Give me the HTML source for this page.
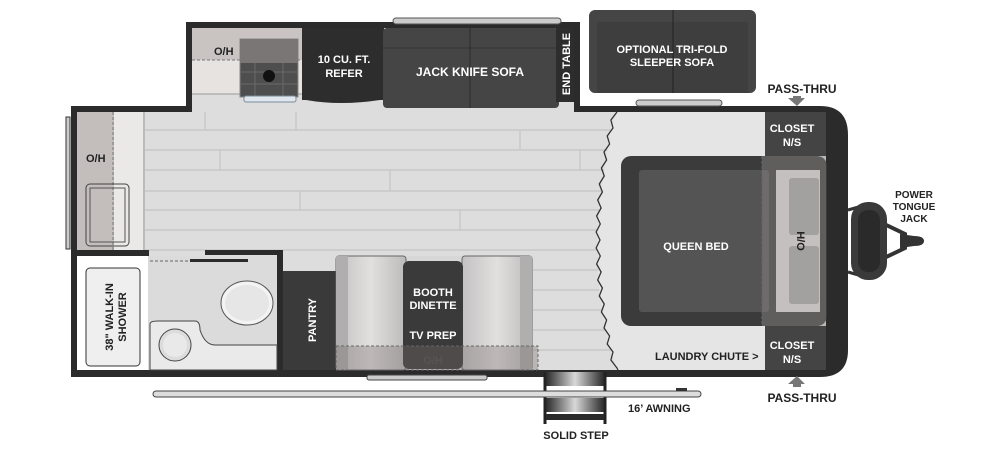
<!DOCTYPE html>
<html><head><meta charset="utf-8"><style>
html,body{margin:0;padding:0;background:#fff;}
svg{display:block;}
text{font-family:"Liberation Sans",sans-serif;font-weight:bold;}
</style></head><body>
<svg width="1000" height="450" viewBox="0 0 1000 450" xmlns="http://www.w3.org/2000/svg">
<defs>
<linearGradient id="bench" x1="0" x2="1" y1="0" y2="0"><stop offset="0" stop-color="#c4c2c2"/><stop offset="0.5" stop-color="#e2e0df"/><stop offset="1" stop-color="#bcbaba"/></linearGradient>
<linearGradient id="stepg" x1="0" x2="1"><stop offset="0" stop-color="#2a2a2a"/><stop offset="0.5" stop-color="#d8d8d8"/><stop offset="1" stop-color="#2a2a2a"/></linearGradient>
</defs>
<path d="M71 106 H186 V22 H580 V106 H820 Q848 106 848 135 V350 Q848 377 820 377 H71 Z" fill="#2b2b2b"/>
<rect x="77" y="112" width="749" height="258" fill="#dedddd"/>
<rect x="192" y="28" width="382" height="84" fill="#dedddd"/>
<g stroke="#c9c8c8" stroke-width="1.5">
<line x1="143" y1="130" x2="620" y2="130"/><line x1="143" y1="150" x2="620" y2="150"/>
<line x1="143" y1="170" x2="620" y2="170"/><line x1="143" y1="191" x2="620" y2="191"/>
<line x1="143" y1="210" x2="620" y2="210"/><line x1="143" y1="230" x2="620" y2="230"/>
<line x1="143" y1="250" x2="620" y2="250"/><line x1="533" y1="270" x2="620" y2="270"/>
<line x1="533" y1="290" x2="620" y2="290"/><line x1="533" y1="310" x2="620" y2="310"/>
<line x1="533" y1="330" x2="620" y2="330"/><line x1="533" y1="350" x2="620" y2="350"/>
<line x1="205" y1="112" x2="205" y2="130"/><line x1="296" y1="112" x2="296" y2="130"/>
<line x1="220" y1="150" x2="220" y2="170"/><line x1="390" y1="170" x2="390" y2="191"/>
<line x1="300" y1="191" x2="300" y2="210"/><line x1="520" y1="130" x2="520" y2="150"/>
<line x1="460" y1="210" x2="460" y2="230"/><line x1="580" y1="150" x2="580" y2="170"/>
</g>
<rect x="143" y="112" width="2" height="138" fill="#bbb"/>
<polygon points="617,112 765,112 765,370 617,370 609,344 604,320 600,296 598,272 598,240 599,208 602,184 607,152 611,128" fill="#e6e5e5"/>
<polyline points="617,112 610.9,120 613,128 607.2,136 609.6,144 604,152 606.6,160 601.4,168 604.25,176 599.3,184 602.4,192 597.7,200 601.1,208 596.6,216 600.3,224 596.1,232 600,240 596.1,248 600.3,256 596.6,264 601.1,272 597.7,280 602.4,288 599.3,296 604.25,304 601.4,312 606.6,320 604,328 609.6,336 607.2,344 613,352 610.9,360 617,368 618,370" fill="none" stroke="#333" stroke-width="1.3" stroke-linejoin="round"/>
<!-- kitchen -->
<rect x="192" y="28" width="110" height="66" fill="#e6e3e0"/>
<rect x="192" y="28" width="110" height="32" fill="#c9c3c2"/>
<line x1="192" y1="60" x2="302" y2="60" stroke="#777" stroke-dasharray="3,2"/>
<line x1="192" y1="94" x2="302" y2="94" stroke="#999"/>
<rect x="240" y="39" width="58" height="58" fill="#4e4e4e" stroke="#888"/>
<rect x="240" y="39" width="58" height="24" fill="#7a7676"/>
<g stroke="#6a6a6a" stroke-width="1"><line x1="240" y1="72" x2="298" y2="72"/><line x1="240" y1="84" x2="298" y2="84"/><line x1="255" y1="63" x2="255" y2="97"/><line x1="283" y1="63" x2="283" y2="97"/></g>
<circle cx="269" cy="76" r="6" fill="#111"/>
<rect x="244" y="96" width="52" height="6" rx="2" fill="#dfe6ee" stroke="#7a8a9a"/>
<text x="214" y="55" font-size="11" fill="#222">O/H</text>
<rect x="302" y="28" width="82" height="72" fill="#2d2d2d"/>
<path d="M306 100 Q340 106 380 100 Z" fill="#2d2d2d"/>
<text x="344" y="63" font-size="11" fill="#fff" text-anchor="middle">10 CU. FT.</text>
<text x="344" y="77" font-size="11" fill="#fff" text-anchor="middle">REFER</text>
<rect x="393" y="18" width="168" height="6" rx="3" fill="#ccc" stroke="#555"/>
<rect x="383" y="28" width="176" height="80" rx="4" fill="#454545"/>
<line x1="383" y1="48" x2="559" y2="48" stroke="#333"/>
<line x1="470" y1="28" x2="470" y2="108" stroke="#2a2a2a"/>
<text x="470" y="76" font-size="12" fill="#fff" text-anchor="middle">JACK KNIFE SOFA</text>
<rect x="556" y="28" width="18" height="74" fill="#2d2d2d"/>
<text transform="translate(570,64) rotate(-90)" font-size="11" fill="#fff" text-anchor="middle">END TABLE</text>
<rect x="589" y="10" width="167" height="83" rx="6" fill="#454545"/>
<rect x="597" y="22" width="151" height="71" fill="#3e3e3e"/>
<line x1="673" y1="10" x2="673" y2="93" stroke="#222"/>
<text x="672" y="53" font-size="11" fill="#fff" text-anchor="middle">OPTIONAL TRI-FOLD</text>
<text x="672" y="66" font-size="11" fill="#fff" text-anchor="middle">SLEEPER SOFA</text>
<rect x="636" y="100" width="86" height="6" rx="3" fill="#ccc" stroke="#555"/>
<rect x="66" y="117" width="4" height="132" fill="#ccc" stroke="#333"/>
<rect x="77" y="112" width="66" height="138" fill="#ebe9e8"/>
<rect x="77" y="112" width="37" height="138" fill="#c3bdbc"/>
<line x1="113" y1="112" x2="113" y2="250" stroke="#777" stroke-dasharray="3,2"/>
<rect x="86" y="184" width="43" height="62" rx="4" fill="none" stroke="#444"/>
<rect x="90" y="188" width="35" height="54" fill="none" stroke="#555"/>
<text x="86" y="162" font-size="11" fill="#222">O/H</text>
<rect x="71" y="250" width="78" height="6" fill="#2b2b2b"/>
<rect x="205" y="250" width="78" height="5" fill="#2b2b2b"/>
<rect x="277" y="250" width="6" height="120" fill="#2b2b2b"/>
<rect x="77" y="256" width="71" height="114" fill="#fff"/>
<rect x="86" y="268" width="54" height="98" rx="4" fill="#f0efef" stroke="#333"/>
<text transform="translate(113,317) rotate(-90)" font-size="11" fill="#222" text-anchor="middle">38" WALK-IN</text>
<text transform="translate(126,317) rotate(-90)" font-size="11" fill="#222" text-anchor="middle">SHOWER</text>
<rect x="148" y="256" width="129" height="114" fill="#dcdbdb"/>
<line x1="150" y1="261" x2="190" y2="261" stroke="#666" stroke-dasharray="3,2"/>
<rect x="190" y="259" width="58" height="3" fill="#2b2b2b"/>
<ellipse cx="247" cy="303" rx="26" ry="22" fill="#f3f3f3" stroke="#555"/>
<ellipse cx="247" cy="303" rx="22" ry="18" fill="#e6e6e6"/>
<path d="M150 324 Q150 321 158 321 H195 Q200 321 200 330 Q205 345 215 345 H277 V370 H150 Z" fill="#eaeaea" stroke="#444"/>
<circle cx="175" cy="345" r="16" fill="#dcdcdc" stroke="#444"/>
<circle cx="175" cy="345" r="12" fill="#e9e9e9"/>
<rect x="283" y="271" width="53" height="99" fill="#3a3a3a"/>
<text transform="translate(316,320) rotate(-90)" font-size="11" fill="#fff" text-anchor="middle">PANTRY</text>
<rect x="336" y="256" width="197" height="114" fill="#d8d7d7"/>
<rect x="336" y="256" width="70" height="114" rx="3" fill="url(#bench)" stroke="#666"/>
<rect x="462" y="256" width="70" height="114" rx="3" fill="url(#bench)" stroke="#666"/>
<rect x="336" y="256" width="12" height="114" fill="#b0aeae"/>
<rect x="520" y="256" width="12" height="114" fill="#b0aeae"/>
<rect x="403" y="261" width="60" height="108" rx="6" fill="#3a3a3a"/>
<text x="433" y="296" font-size="11" fill="#fff" text-anchor="middle">BOOTH</text>
<text x="433" y="309" font-size="11" fill="#fff" text-anchor="middle">DINETTE</text>
<text x="433" y="339" font-size="11" fill="#fff" text-anchor="middle">TV PREP</text>
<rect x="336" y="346" width="202" height="24" fill="rgba(120,110,110,0.35)" stroke="#666" stroke-dasharray="3,2"/>
<text x="433" y="364" font-size="11" fill="#555" text-anchor="middle">O/H</text>
<rect x="367" y="375" width="120" height="5" rx="2" fill="#ccc" stroke="#444"/>
<rect x="765" y="112" width="61" height="44" fill="#444"/>
<rect x="765" y="326" width="61" height="44" fill="#444"/>
<rect x="826" y="112" width="6" height="258" fill="#2b2b2b"/>
<text x="792" y="132" font-size="11" fill="#fff" text-anchor="middle">CLOSET</text>
<text x="792" y="146" font-size="11" fill="#fff" text-anchor="middle">N/S</text>
<text x="792" y="349" font-size="11" fill="#fff" text-anchor="middle">CLOSET</text>
<text x="792" y="363" font-size="11" fill="#fff" text-anchor="middle">N/S</text>
<rect x="621" y="156" width="206" height="170" rx="10" fill="#3c3b3b"/>
<rect x="639" y="170" width="130" height="142" rx="3" fill="#555454"/>
<rect x="762" y="156" width="64" height="170" fill="rgba(140,135,135,0.45)"/>
<rect x="776" y="170" width="44" height="142" fill="#c3c0bf"/>
<rect x="789" y="178" width="30" height="57" rx="3" fill="#a3a0a0"/>
<rect x="789" y="246" width="30" height="58" rx="3" fill="#a3a0a0"/>
<line x1="762" y1="156" x2="762" y2="326" stroke="#666" stroke-dasharray="3,2"/>
<text x="696" y="250" font-size="11" fill="#fff" text-anchor="middle">QUEEN BED</text>
<text transform="translate(797,241) rotate(90)" font-size="11" fill="#222" text-anchor="middle">H/O</text>
<text x="655" y="360" font-size="11" fill="#222">LAUNDRY CHUTE &gt;</text>
<text x="802" y="93" font-size="12" fill="#222" text-anchor="middle">PASS-THRU</text>
<path d="M788 98 H805 L797 106 Z M793 96 h8 v3 h-8z" fill="#777"/>
<path d="M788 384 H805 L797 376 Z M793 384 h8 v3 h-8z" fill="#777"/>
<text x="802" y="402" font-size="12" fill="#222" text-anchor="middle">PASS-THRU</text>
<!-- tongue jack -->
<path d="M848 210 L862 206 M848 272 L862 276" stroke="#333" stroke-width="3"/>
<path d="M880 222 L905 234 L905 248 L880 260" fill="none" stroke="#333" stroke-width="4"/>
<rect x="851" y="202" width="36" height="78" rx="17" fill="#3a3a3a"/>
<rect x="858" y="210" width="22" height="62" rx="10" fill="#2a2a2a"/>
<path d="M900 234 L914 236 Q924 236 924 241 Q924 246 914 246 L900 248 Z" fill="#333"/>
<text x="914" y="198" font-size="10" fill="#222" text-anchor="middle">POWER</text>
<text x="914" y="210" font-size="10" fill="#222" text-anchor="middle">TONGUE</text>
<text x="914" y="222" font-size="10" fill="#222" text-anchor="middle">JACK</text>
<path d="M545 372 V424 M605 372 V424" stroke="#222" stroke-width="3"/>
<rect x="546" y="372" width="58" height="14" fill="url(#stepg)"/>
<rect x="546" y="398" width="58" height="14" fill="url(#stepg)"/>
<rect x="546" y="414" width="58" height="6" fill="#2a2a2a"/>
<rect x="153" y="391" width="548" height="6" rx="3" fill="#ddd" stroke="#444"/>
<rect x="676" y="388" width="11" height="3" fill="#333"/>
<text x="628" y="412" font-size="11" fill="#222">16’ AWNING</text>
<text x="576" y="439" font-size="11" fill="#222" text-anchor="middle">SOLID STEP</text>
</svg>
</body></html>
